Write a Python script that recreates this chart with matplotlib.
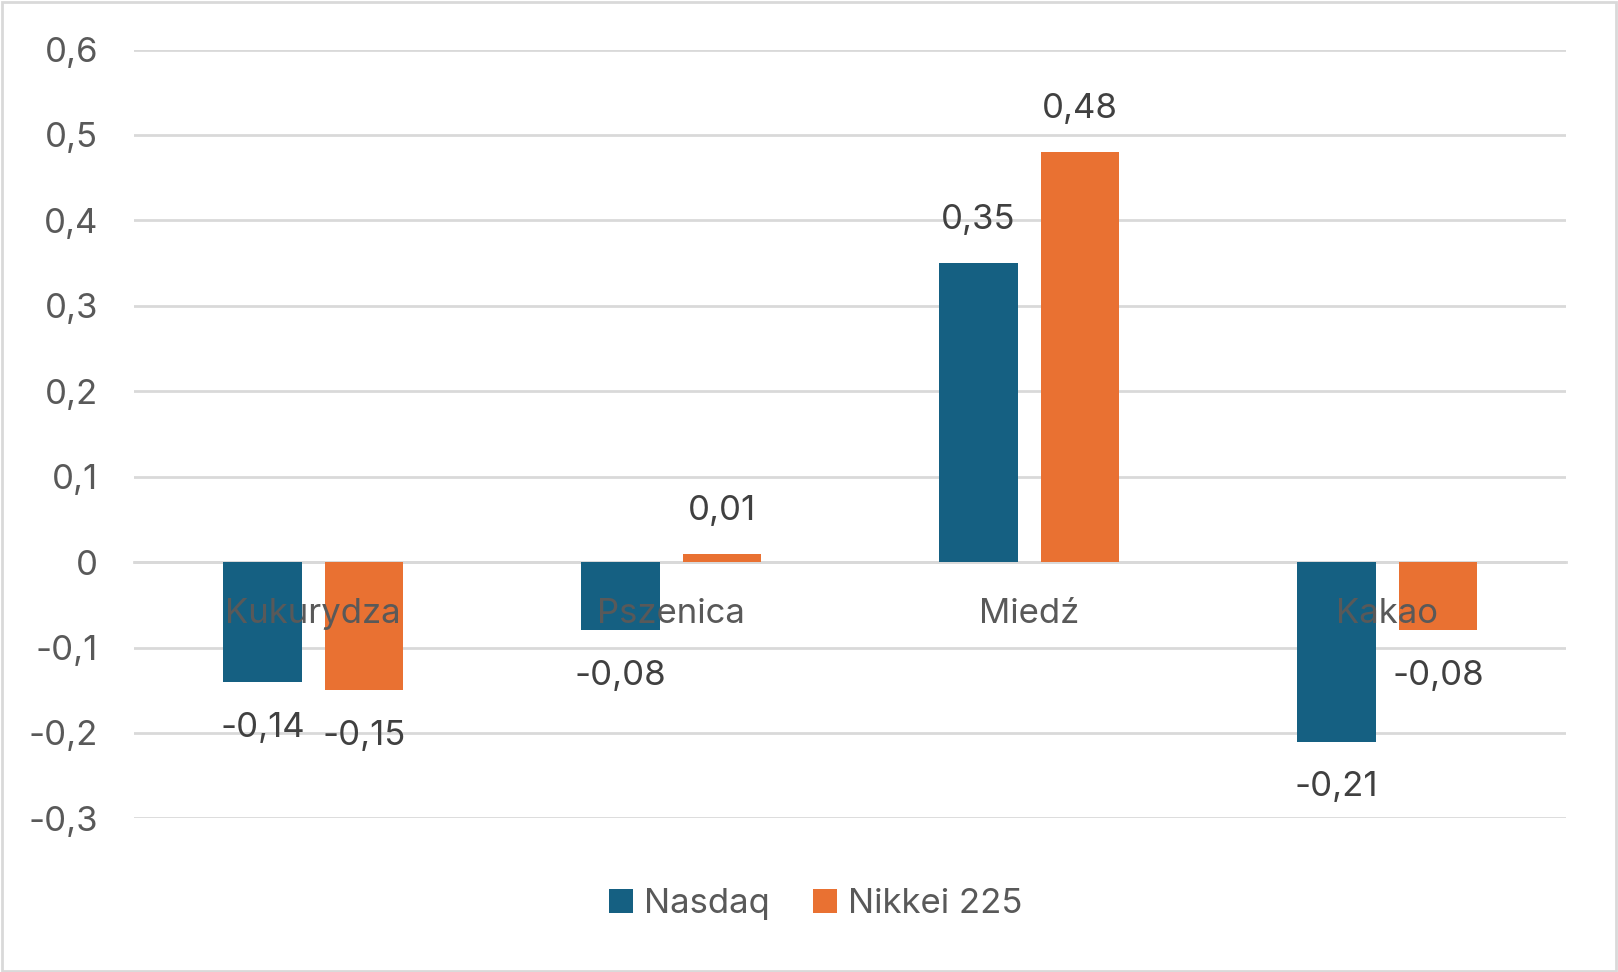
import numpy as np
import matplotlib
matplotlib.use("Agg")
import matplotlib.pyplot as plt
from matplotlib.patches import Rectangle

categories = ["Kukurydza", "Pszenica", "Miedź", "Kakao"]
nasdaq = [-0.14, -0.08, 0.35, -0.21]
nikkei = [-0.15, 0.01, 0.48, -0.08]
series_names = ["Nasdaq", "Nikkei 225"]
yticks = [-0.3, -0.2, -0.1, 0, 0.1, 0.2, 0.3, 0.4, 0.5, 0.6]

BLUE, ORANGE = "#156082", "#E97132"
GRID, TICK, LABEL = "#D9D9D9", "#595959", "#404040"
FS = 25

plt.rcParams["font.family"] = ["Inter", "DejaVu Sans"]


def pl(v, nd):
    s = f"{v:.{nd}f}".replace(".", ",")
    return "0" if v == 0 else s


fig = plt.figure(figsize=(16.18, 9.72), dpi=100)
ax = fig.add_axes([0.083, 0.158, 0.885, 0.791])
fig.patches.append(Rectangle((0.001, 0.001), 0.998, 0.997, transform=fig.transFigure,
                             fill=False, edgecolor=GRID, lw=2))

x = np.arange(len(categories))
w, off = 0.22, 0.142
b1 = ax.bar(x - off, nasdaq, w, color=BLUE, label=series_names[0], zorder=2)
b2 = ax.bar(x + off, nikkei, w, color=ORANGE, label=series_names[1], zorder=2)

# etykiety wartości nad / pod słupkami
for bars in (b1, b2):
    for r in bars:
        v = r.get_height()
        ax.annotate(pl(v, 2), (r.get_x() + r.get_width() / 2, v),
                    xytext=(0, 31 if v >= 0 else -33), textcoords="offset points",
                    ha="center", va="center", fontsize=FS, color=LABEL, zorder=5)

ax.set_xlim(-0.5, len(categories) - 0.5)
ax.set_ylim(-0.3, 0.6)
ax.set_yticks(yticks)
ax.set_yticklabels([pl(t, 1) for t in yticks])
ax.yaxis.grid(True, color=GRID, lw=2)
ax.yaxis.set_zorder(1)
ax.xaxis.set_zorder(3)
for s in ("top", "right", "left"):
    ax.spines[s].set_visible(False)
ax.spines["bottom"].set_position(("data", 0))
ax.spines["bottom"].set_color(GRID)
ax.spines["bottom"].set_linewidth(2)
ax.spines["bottom"].set_zorder(1)
ax.set_xticks(x)
ax.set_xticklabels(categories)
ax.tick_params(axis="x", length=0, pad=26, labelsize=FS, labelcolor=TICK)
ax.tick_params(axis="y", length=0, pad=26, labelsize=FS, labelcolor=TICK)

fig.legend(loc="center", bbox_to_anchor=(0.504, 0.070), ncol=2, frameon=False,
           fontsize=FS, labelcolor=TICK, handlelength=0.7, handleheight=0.7,
           handletextpad=0.3, columnspacing=1.25)

fig.savefig("out.png")
